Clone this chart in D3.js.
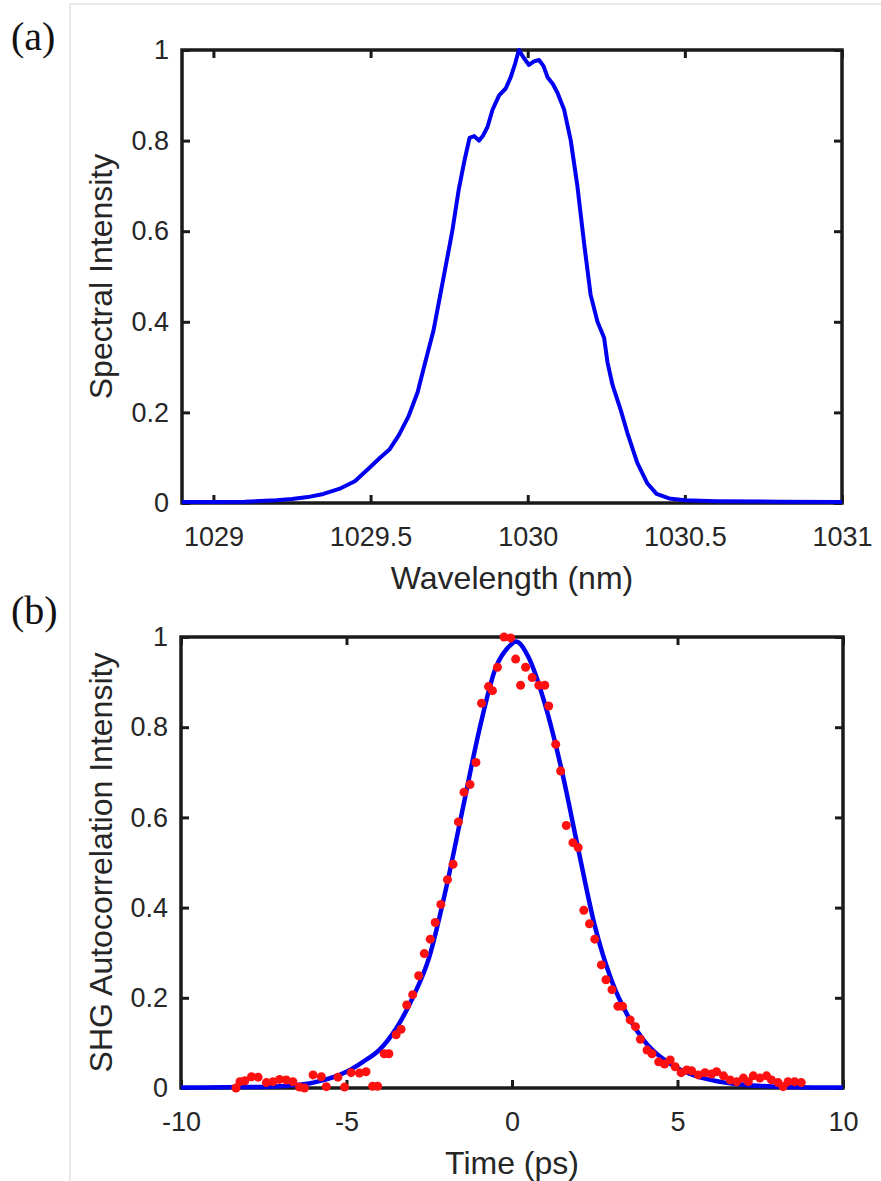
<!DOCTYPE html>
<html>
<head>
<meta charset="utf-8">
<script src="https://cdn.jsdelivr.net/npm/d3@7"></script>
<style>
  html, body { margin: 0; padding: 0; background: #fff; }
  svg { display: block; }
</style>
</head>
<body>
<svg id="chart" width="881" height="1181"></svg>
<script>
// ---------- DATA ----------
// (a) spectrum
const specWl = [1028.9, 1029.0, 1029.1, 1029.2, 1029.25, 1029.3, 1029.35, 1029.4, 1029.45, 1029.5,
  1029.53, 1029.56, 1029.59, 1029.62, 1029.65, 1029.67, 1029.70, 1029.73, 1029.76, 1029.78,
  1029.80, 1029.815, 1029.83, 1029.845, 1029.857, 1029.872, 1029.888, 1029.909, 1029.93, 1029.946,
  1029.96, 1029.972, 1029.985, 1030.004, 1030.02, 1030.036, 1030.05, 1030.063, 1030.08, 1030.095,
  1030.116, 1030.137, 1030.158, 1030.18, 1030.2, 1030.222, 1030.243, 1030.254, 1030.27, 1030.296,
  1030.317, 1030.349, 1030.381, 1030.41, 1030.45, 1030.5, 1030.6, 1030.8, 1031.0];
const specI = [0.002, 0.002, 0.003, 0.006, 0.009, 0.013, 0.02, 0.031, 0.048, 0.08,
  0.1, 0.118, 0.15, 0.19, 0.245, 0.3, 0.38, 0.49, 0.6, 0.69,
  0.76, 0.806, 0.81, 0.80, 0.81, 0.83, 0.868, 0.9, 0.915, 0.94,
  0.97, 1.0, 0.985, 0.967, 0.975, 0.978, 0.965, 0.94, 0.925, 0.905,
  0.868, 0.80, 0.70, 0.57, 0.46, 0.40, 0.365, 0.31, 0.26, 0.205,
  0.155, 0.088, 0.043, 0.02, 0.01, 0.006, 0.004, 0.003, 0.002];

// (b) autocorrelation fit curve
const fitT = [-10, -8, -7, -6, -5, -4.5, -4, -3.5, -3, -2.5, -2, -1.5, -1, -0.5, 0, 0.1, 0.2, 0.5,
  1, 1.5, 2, 2.5, 3, 3.5, 4, 4.5, 5, 5.5, 6, 7, 8, 10];
const fitV = [0.001, 0.002, 0.004, 0.012, 0.036, 0.058, 0.085, 0.132, 0.2, 0.29, 0.44, 0.615, 0.79, 0.93, 0.985, 0.99, 0.988, 0.955,
  0.85, 0.705, 0.53, 0.36, 0.24, 0.16, 0.104, 0.068, 0.044, 0.028, 0.018, 0.007, 0.003, 0.001];

// (b) measured points
const dotT = [-8.34, -8.22, -8.07, -7.87, -7.67, -7.42, -7.22, -7.02, -6.82, -6.62, -6.42, -6.27, -6.01, -5.76, -5.61,
  -5.26, -5.06, -4.86, -4.61, -4.41, -4.21, -4.06, -3.86, -3.72, -3.5, -3.35, -3.18, -3.0, -2.82, -2.65,
  -2.47, -2.32, -2.15, -1.95, -1.78, -1.62, -1.45, -1.27, -1.09, -0.92, -0.71, -0.59, -0.44, -0.24, -0.04,
  0.11, 0.26, 0.41, 0.61, 0.81, 0.99, 1.11, 1.32, 1.47, 1.64, 1.84, 2.0, 2.17, 2.34, 2.5,
  2.7, 2.84, 3.02, 3.2, 3.34, 3.57, 3.73, 3.88, 4.08, 4.23, 4.43, 4.61, 4.78, 4.93, 5.11,
  5.28, 5.43, 5.63, 5.83, 6.03, 6.18, 6.39, 6.59, 6.79, 6.99, 7.14, 7.29, 7.49, 7.69, 7.84,
  8.04, 8.19, 8.34, 8.54, 8.74];
const dotV = [0.0, 0.014, 0.016, 0.025, 0.024, 0.012, 0.014, 0.019, 0.018, 0.014, 0.002, 0.0, 0.029, 0.025, 0.003,
  0.024, 0.002, 0.034, 0.033, 0.036, 0.004, 0.004, 0.076, 0.076, 0.118, 0.13, 0.184, 0.207, 0.249, 0.298,
  0.33, 0.367, 0.407, 0.462, 0.496, 0.59, 0.656, 0.673, 0.722, 0.853, 0.89, 0.881, 0.933, 1.0, 0.998,
  0.951, 0.893, 0.933, 0.91, 0.893, 0.893, 0.847, 0.762, 0.703, 0.582, 0.544, 0.533, 0.394, 0.364, 0.33,
  0.273, 0.24, 0.218, 0.181, 0.181, 0.151, 0.136, 0.108, 0.084, 0.076, 0.058, 0.053, 0.062, 0.047, 0.034,
  0.04, 0.038, 0.029, 0.034, 0.031, 0.036, 0.027, 0.018, 0.014, 0.022, 0.014, 0.027, 0.022, 0.027, 0.018,
  0.012, 0.003, 0.014, 0.014, 0.012];

// ticks
const xTicksA = [1029, 1029.5, 1030, 1030.5, 1031];
const xTicksB = [-10, -5, 0, 5, 10];
const yTicks = [0, 0.2, 0.4, 0.6, 0.8, 1];

// ---------- DRAW ----------
const svg = d3.select("#chart");
const sansFont = "'Liberation Sans', Arial, Helvetica, sans-serif";
const serifFont = "'Liberation Serif', 'Times New Roman', serif";
const textColor = "#262626";

// light frame of the original figure
svg.append("line").attr("x1", 70).attr("x2", 70).attr("y1", 4).attr("y2", 1181)
  .attr("stroke", "#d4d4d4").attr("stroke-width", 1);
svg.append("line").attr("x1", 70).attr("x2", 881).attr("y1", 4).attr("y2", 4)
  .attr("stroke", "#d4d4d4").attr("stroke-width", 1);

const fmtY = d => (d === 0 ? "0" : d === 1 ? "1" : d3.format(".1f")(d));
const fmtX = d => String(d);   // plain hyphen for negatives, as in the original

function panel(opts) {
  const { x0, x1, y0, y1, xDomain, xTicks, xFmt, xTitle, yTitle, label, labelY } = opts;
  const g = svg.append("g");
  const x = d3.scaleLinear().domain(xDomain).range([x0, x1]);
  const y = d3.scaleLinear().domain([0, 1]).range([y1, y0]);

  const styleAxis = sel => {
    sel.select(".domain").remove();
    sel.selectAll(".tick line").attr("stroke", "#1a1a1a").attr("stroke-width", 3);
    sel.selectAll(".tick text").attr("fill", textColor)
      .style("font-family", sansFont).style("font-size", "27px");
  };

  g.append("g").attr("transform", `translate(0,${y1})`)
    .call(d3.axisBottom(x).tickValues(xTicks).tickFormat(xFmt).tickSize(-8).tickPadding(24))
    .call(styleAxis);
  g.append("g").attr("transform", `translate(0,${y0})`)
    .call(d3.axisTop(x).tickValues(xTicks).tickFormat("").tickSize(-8))
    .call(styleAxis);
  g.append("g").attr("transform", `translate(${x0},0)`)
    .call(d3.axisLeft(y).tickValues(yTicks).tickFormat(fmtY).tickSize(-8).tickPadding(13))
    .call(styleAxis);
  g.append("g").attr("transform", `translate(${x1},0)`)
    .call(d3.axisRight(y).tickValues(yTicks).tickFormat("").tickSize(-8))
    .call(styleAxis);

  g.append("rect").attr("x", x0).attr("y", y0).attr("width", x1 - x0).attr("height", y1 - y0)
    .attr("fill", "none").attr("stroke", "#1a1a1a").attr("stroke-width", 3.5);

  g.append("text").attr("x", (x0 + x1) / 2).attr("y", y1 + 86)
    .attr("text-anchor", "middle").attr("fill", textColor)
    .style("font-family", sansFont).style("font-size", "32px").text(xTitle);

  g.append("text").attr("transform", `translate(104,${(y0 + y1) / 2}) rotate(-90)`)
    .attr("text-anchor", "middle").attr("dominant-baseline", "middle").attr("fill", textColor)
    .style("font-family", sansFont).style("font-size", "32px").text(yTitle);

  svg.append("text").attr("x", 11).attr("y", labelY).attr("fill", "#111")
    .style("font-family", serifFont).style("font-size", "40px").text(label);

  return { g, x, y };
}

// (a)
const A = panel({
  x0: 182, x1: 842, y0: 50, y1: 503,
  xDomain: [1028.9, 1031], xTicks: xTicksA, xFmt: fmtX,
  xTitle: "Wavelength (nm)", yTitle: "Spectral Intensity", label: "(a)", labelY: 50
});
const specData = specWl.map((w, i) => ({ x: w, y: specI[i] }));
A.g.append("path").datum(specData)
  .attr("fill", "none").attr("stroke", "#0000f0").attr("stroke-width", 4)
  .attr("stroke-linejoin", "round")
  .attr("d", d3.line().x(d => A.x(d.x)).y(d => A.y(d.y)).curve(d3.curveLinear));

// (b)
const B = panel({
  x0: 181, x1: 843, y0: 637, y1: 1088,
  xDomain: [-10, 10], xTicks: xTicksB, xFmt: fmtX,
  xTitle: "Time (ps)", yTitle: "SHG Autocorrelation Intensity", label: "(b)", labelY: 624
});
const fitData = fitT.map((t, i) => ({ x: t, y: fitV[i] }));
B.g.append("path").datum(fitData)
  .attr("fill", "none").attr("stroke", "#0000f0").attr("stroke-width", 4.5)
  .attr("d", d3.line().x(d => B.x(d.x)).y(d => B.y(d.y)).curve(d3.curveMonotoneX));
const dots = dotT.map((t, i) => ({ x: t, y: dotV[i] }));
B.g.append("g").selectAll("circle").data(dots).join("circle")
  .attr("cx", d => B.x(d.x)).attr("cy", d => B.y(d.y)).attr("r", 4.5)
  .attr("fill", "#ff1010");
</script>
</body>
</html>
